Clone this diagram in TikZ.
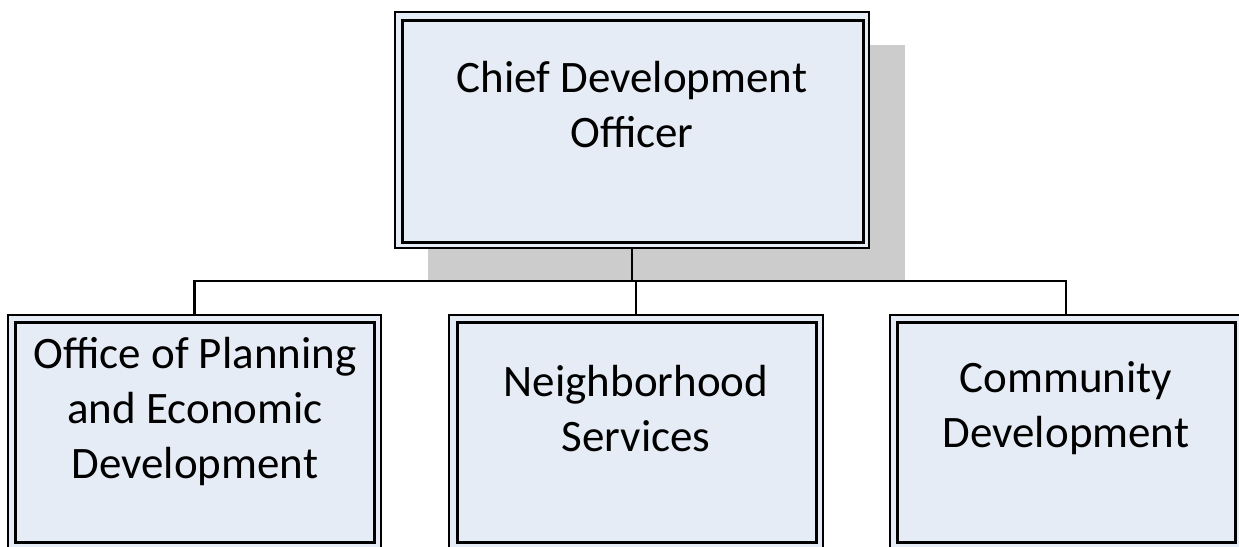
\documentclass[tikz,border=0pt]{standalone}
\usepackage{fontspec}
\setmainfont{Carlito}
\definecolor{boxblue}{RGB}{230,236,246}
\definecolor{shadowgray}{RGB}{204,204,204}
\begin{document}
\begin{tikzpicture}[x=1pt,y=-1pt,
  outerbox/.style={draw=black,line width=2.2pt,fill=boxblue,inner sep=0pt,rectangle},
  innerbox/.style={draw=black,line width=3pt,inner sep=0pt,rectangle},
  lbl/.style={align=center,font=\fontsize{45}{55}\selectfont,inner sep=0pt},
  conn/.style={draw=black,line width=2.8pt}]
\useasboundingbox (0,0) rectangle (1239,546);
\clip (0,0) rectangle (1239,546);
\fill[shadowgray] (428,45) rectangle (905,281);
% top
\node[outerbox,minimum width=474pt,minimum height=236pt] (top) at (632,130) {};
\node[innerbox,minimum width=461pt,minimum height=222pt] (topin) at (632.5,131) {};
% bottom
\node[outerbox,minimum width=373pt,minimum height=233pt] (left) at (194.5,431.5) {};
\node[innerbox,minimum width=359pt,minimum height=220pt] (leftin) at (194.5,432) {};
\node[outerbox,minimum width=374pt,minimum height=233pt] (mid) at (636,431.5) {};
\node[innerbox,minimum width=359pt,minimum height=220pt] (midin) at (636.5,432) {};
\node[outerbox,minimum width=352pt,minimum height=233pt] (right) at (1066,431.5) {};
\node[innerbox,minimum width=338pt,minimum height=220pt] (rightin) at (1066,432) {};
% connectors
\coordinate (bus) at (0,281);
\draw[conn] (top.south) -- (top.south |- bus);
\draw[conn] (left.north) -- (left.north |- bus) -- (right.north |- bus) -- (right.north);
\draw[conn] (mid.north |- bus) -- (mid.north);
% labels
\node[lbl] (toptext) at (632,105) {Chief Development\\Officer};
\node[lbl] (lefttext) at (195,411) {Office of Planning\\and Economic\\Development};
\node[lbl] (midtext) at (636,408.5) {Neighborhood\\Services};
\node[lbl] (righttext) at (1066,408.5) {Community\\Development};
\end{tikzpicture}
\end{document}
